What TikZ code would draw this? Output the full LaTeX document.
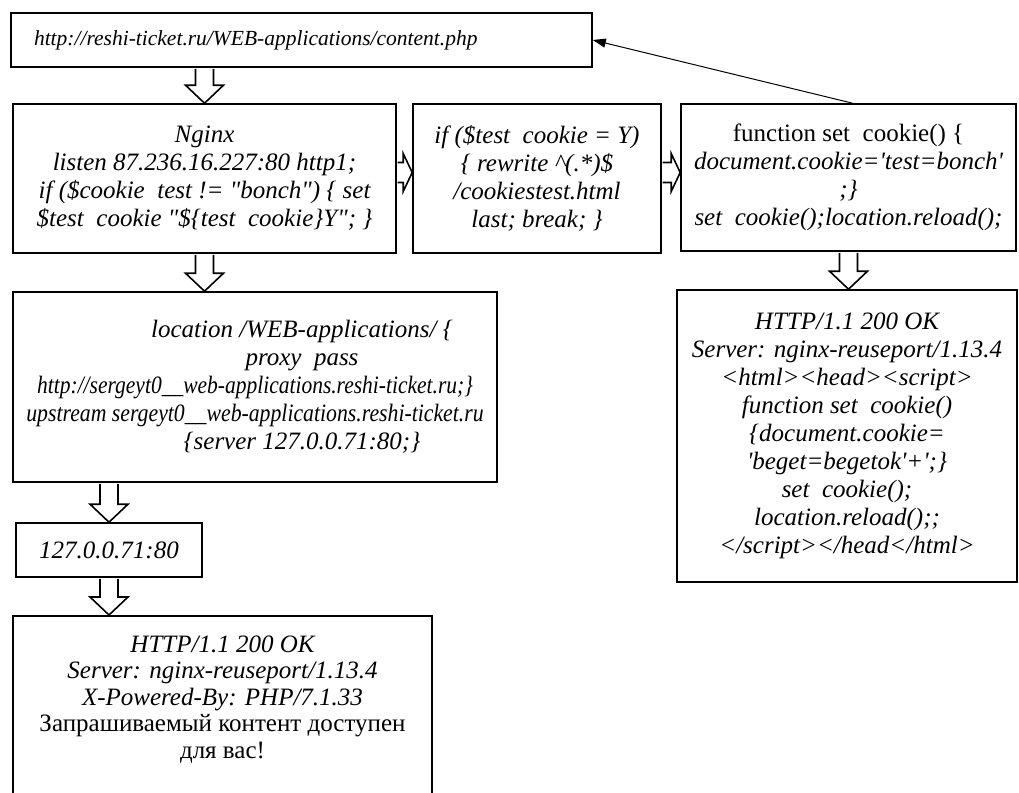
\documentclass[tikz,border=0pt]{standalone}
\usepackage{fontspec}
\usepackage{graphicx}
\setmainfont{Liberation Serif}
\usetikzlibrary{arrows.meta,calc}

\tikzset{
  box/.style={draw, line width=1.6pt, align=center, inner sep=0pt,
    font=\fontsize{25}{28}\selectfont\itshape},
  fatarrow/.style={draw, line width=1.6pt, fill=white, line join=miter}
}
% hollow block arrows between two boxes
\newcommand{\downfat}[2]{\draw[fatarrow] let \p1=(#1), \p2=(#2) in
  (\x1-9,\y1-1) -- (\x1-9,\y2+18) -- (\x1-19,\y2+18) -- (\x1,\y2)
  -- (\x1+19,\y2+18) -- (\x1+9,\y2+18) -- (\x1+9,\y1-1);}
\newcommand{\rightfat}[2]{\draw[fatarrow] let \p1=(#1), \p2=(#2) in
  (\x1+0.8,\y1+10) -- (\x2-9,\y1+10) -- (\x2-9,\y1+19) -- (\x2,\y1)
  -- (\x2-9,\y1-19) -- (\x2-9,\y1-10) -- (\x1+0.8,\y1-10);}

\begin{document}
\begin{tikzpicture}[x=1pt,y=-1pt]
  \path[use as bounding box, clip] (0,0) rectangle (1019,792);

  \node[box, font=\fontsize{21.5}{28}\selectfont\itshape, text width=535, align=left,
    inner xsep=23, minimum height=54] (url) at (301.5,40)
    {http://reshi-ticket.ru/WEB-applications/content.php};

  \node[box, minimum width=383, minimum height=149] (nginx) at (204.5,178.5)
    {Nginx\\ listen 87.236.16.227:80 http1;\\
     if (\$cookie\ \ test != \textquotedbl bonch\textquotedbl) \{ set\\
     \$test\ \ cookie \textquotedbl\$\{test\ \ cookie\}Y\textquotedbl; \}};

  \node[box, minimum width=248, minimum height=149] (iftest) at (537,178.5)
    {if (\$test\ \ cookie = Y)\\ \{ rewrite \textasciicircum(.*)\$\\
     /cookiestest.html\\ last; break; \}};

  \node[box, minimum width=335, minimum height=147] (setcookie) at (848.5,177.5)
    {\textup{function set\ \ cookie() \{}\\
     document.cookie=\textquotesingle test=bonch\textquotesingle\\ ;\}\\
     set\ \ cookie();location.reload();};

  \node[box, minimum width=340, minimum height=292] (resp) at (847,436)
    {HTTP/1.1 200 OK\\ Server: nginx-reuseport/1.13.4\\
     <html><head><script>\\ function set\ \ cookie()\\
     \{document.cookie=\\
     \textquotesingle beget=begetok\textquotesingle+\textquotesingle;\}\\
     set\ \ cookie();\\ location.reload();;\\
     </script></head</html>};

  \node[box, minimum width=484, minimum height=190] (location) at (255,387)
    {\hspace*{94pt}location /WEB-applications/ \{\\
     \hspace*{94pt}proxy\ \ pass\\
     \scalebox{0.86}[1]{http://sergeyt0\_\_web-applications.reshi-ticket.ru;\}}\\
     \scalebox{0.87}[1]{upstream sergeyt0\_\_web-applications.reshi-ticket.ru}\\
     \hspace*{94pt}\{server 127.0.0.71:80;\}};

  \node[box, minimum width=186, minimum height=54] (ip) at (109,550)
    {127.0.0.71:80};

  \node[box, font=\fontsize{25}{26.5}\selectfont\itshape, anchor=north,
    minimum width=419, inner ysep=20] (result) at (222.5,615)
    {HTTP/1.1 200 OK\\ Server: nginx-reuseport/1.13.4\\
     X-Powered-By: PHP/7.1.33\\
     \textup{Запрашиваемый контент доступен}\\ \textup{для вас!}\\ \mbox{}};

  \downfat{nginx.north |- url.south}{nginx.north}
  \downfat{nginx.south}{nginx.south |- location.north}
  \downfat{setcookie.south}{setcookie.south |- resp.north}
  \downfat{ip.north |- location.south}{ip.north}
  \downfat{ip.south}{ip.south |- result.north}
  \rightfat{[yshift=6pt]nginx.east}{iftest.west}
  \rightfat{[yshift=6pt]iftest.east}{setcookie.west}

  \draw[-{Triangle[length=13pt,width=9pt]}, line width=1pt]
    ([xshift=4pt]setcookie.north) -- (url.east);
\end{tikzpicture}
\end{document}
